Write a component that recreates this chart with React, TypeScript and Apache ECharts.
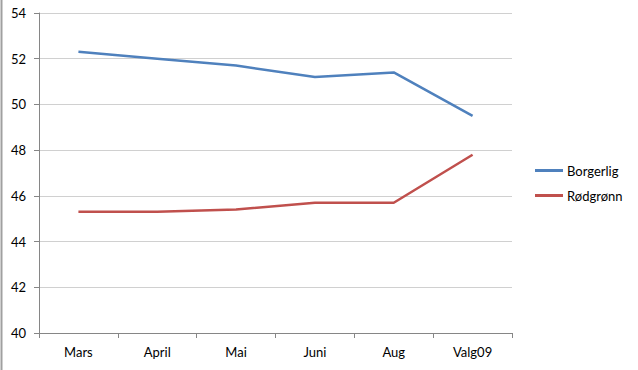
import React, { useEffect, useRef } from "react";
import * as echarts from "echarts";

const categories = ["Mars", "April", "Mai", "Juni", "Aug", "Valg09"];
const borgerlig = [52.3, 52.0, 51.7, 51.2, 51.4, 49.5];
const rodgronn = [45.3, 45.3, 45.4, 45.7, 45.7, 47.8];
const seriesNames = ["Borgerlig", "Rødgrønn"];

export default function App() {
  const ref = useRef<HTMLDivElement>(null);
  useEffect(() => {
    if (!ref.current) return;
    const chart = echarts.init(ref.current, null, { renderer: "svg" });
    const font = "Lato, 'Open Sans', sans-serif";
    chart.setOption({
      animation: false,
      backgroundColor: "#ffffff",
      textStyle: { fontFamily: font },
      grid: { left: 39, right: 126, top: 13, bottom: 37, containLabel: false },
      legend: {
        orient: "vertical",
        left: 535,
        top: 164,
        padding: 0,
        itemWidth: 28,
        itemHeight: 3,
        itemGap: 12,
        icon: "rect",
        textStyle: { fontSize: 13, color: "#000", fontFamily: font, padding: [0, 0, 0, -1] },
        data: seriesNames,
      },
      xAxis: {
        type: "category",
        data: categories,
        boundaryGap: true,
        axisLine: { lineStyle: { color: "#868686", width: 1 } },
        axisTick: { show: true, length: 5, inside: false, lineStyle: { color: "#868686" } },
        axisLabel: { fontSize: 13, color: "#000", margin: 12, fontFamily: font },
        splitLine: { show: false },
      },
      yAxis: {
        type: "value",
        min: 40,
        max: 54,
        interval: 2,
        axisLine: { show: true, lineStyle: { color: "#868686", width: 1 } },
        axisTick: { show: true, length: 5, lineStyle: { color: "#868686" } },
        axisLabel: { fontSize: 13, color: "#000", margin: 13, fontFamily: font },
        splitLine: { show: true, lineStyle: { color: "#d0d0d0", width: 1 } },
      },
      graphic: [
        {
          type: "line",
          shape: { x1: 1.5, y1: 0, x2: 1.5, y2: 370 },
          style: { stroke: "#a0a0a0", lineWidth: 2 },
        },
      ],
      series: [
        {
          name: seriesNames[0],
          type: "line",
          data: borgerlig,
          symbol: "none",
          lineStyle: { color: "#4F81BD", width: 2.5 },
          itemStyle: { color: "#4F81BD" },
        },
        {
          name: seriesNames[1],
          type: "line",
          data: rodgronn,
          symbol: "none",
          lineStyle: { color: "#C0504D", width: 2.5 },
          itemStyle: { color: "#C0504D" },
        },
      ],
    });
    return () => chart.dispose();
  }, []);
  return (
    <div
      ref={ref}
      style={{ position: "fixed", left: 0, top: 0, width: 638, height: 370 }}
    />
  );
}
